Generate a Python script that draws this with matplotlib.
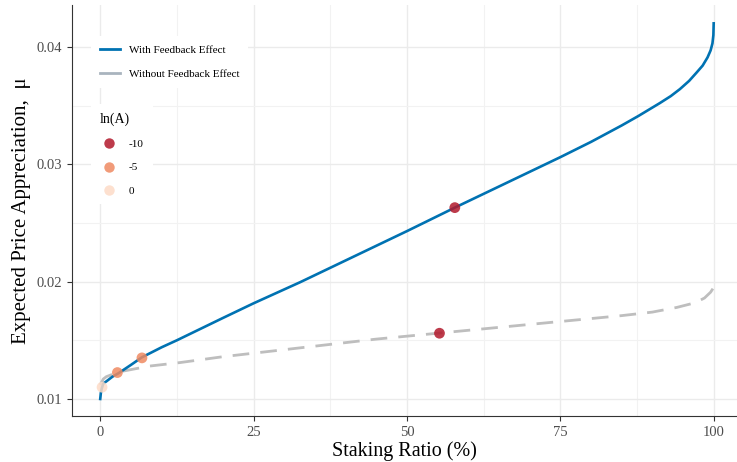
import matplotlib.pyplot as plt
from matplotlib.lines import Line2D

# curve with feedback effect
with_x = [0, 0.1, 0.25, 0.5, 1, 2, 3, 5, 6.8, 10, 12.5, 20, 25, 32.6, 40, 50,
          57.8, 65, 75, 80, 85, 87.7, 91.2, 93, 94.5, 96, 97.2, 98.2, 99,
          99.5, 99.8, 99.95, 100]
with_y = [0.0100, 0.0105, 0.0109, 0.0113, 0.0115, 0.0119, 0.0122, 0.0129,
          0.01355, 0.0144, 0.0150, 0.0169, 0.01815, 0.01995, 0.0218, 0.0243,
          0.0263, 0.0281, 0.0306, 0.0319, 0.0333, 0.0341, 0.0352, 0.0358,
          0.0364, 0.0371, 0.0378, 0.0384, 0.0391, 0.0397, 0.0403, 0.0410,
          0.0420]

# curve without feedback effect
without_x = [0, 0.5, 1, 2, 3, 5, 8, 13, 20, 25, 35, 45, 55, 65, 75, 85, 90,
             94, 97, 98.5, 99.5, 100]
without_y = [0.0112, 0.0117, 0.0119, 0.0121, 0.0123, 0.0125, 0.0128, 0.0131,
             0.0136, 0.0139, 0.0145, 0.0151, 0.0156, 0.0161, 0.0166, 0.0171,
             0.0174, 0.0178, 0.0182, 0.0186, 0.0191, 0.0195]

# highlighted points
dot_x = [57.8, 55.3, 2.8, 6.8, 0.3]
dot_y = [0.0263, 0.0156, 0.01225, 0.0135, 0.0110]
dot_lnA = [-10, -10, -5, -5, 0]
lnA_levels = [-10, -5, 0]
lnA_colors = {-10: '#B2182B', -5: '#EF8A62', 0: '#FDDBC7'}

plt.rcParams['font.family'] = 'Liberation Serif'

fig = plt.figure(figsize=(7.37, 4.62), dpi=100)
ax = fig.add_axes([0.0977, 0.0996, 0.9023, 0.89])

ax.plot(without_x, without_y, color='#BEBEBE', lw=2.0, ls=(0, (6, 4)), zorder=2)
ax.plot(with_x, with_y, color='#0072B2', lw=1.9, zorder=3)

ax.scatter(dot_x, dot_y, c=[lnA_colors[v] for v in dot_lnA], s=60,
           alpha=0.85, edgecolors='none', zorder=4)

ax.set_xlim(-4.6, 103.8)
ax.set_ylim(0.00855, 0.04358)
ax.set_xticks([0, 25, 50, 75, 100])
ax.set_xticks([12.5, 37.5, 62.5, 87.5], minor=True)
ax.set_yticks([0.01, 0.02, 0.03, 0.04])
ax.set_yticklabels(['0.01', '0.02', '0.03', '0.04'])
ax.set_yticks([0.015, 0.025, 0.035], minor=True)

ax.grid(True, which='major', color='#EBEBEB', lw=1.0)
ax.grid(True, which='minor', color='#F2F2F2', lw=0.8)
ax.set_axisbelow(True)

for s in ['top', 'right']:
    ax.spines[s].set_visible(False)
for s in ['left', 'bottom']:
    ax.spines[s].set_color('#333333')
    ax.spines[s].set_linewidth(0.8)
ax.tick_params(which='major', length=3.5, color='#333333', labelsize=10.5,
               labelcolor='#4D4D4D')
ax.tick_params(which='minor', length=0)

ax.set_xlabel('Staking Ratio (%)', fontsize=14.5, labelpad=2)
ax.set_ylabel('Expected Price Appreciation,  μ', fontsize=15, labelpad=4)

line_handles = [Line2D([], [], color='#0072B2', lw=2),
                Line2D([], [], color='#A9B4BE', lw=2)]
leg1 = ax.legend(line_handles, ['With Feedback Effect', 'Without Feedback Effect'],
                 loc='upper left', bbox_to_anchor=(0.0286, 0.923), fontsize=8,
                 frameon=True, facecolor='white', edgecolor='none', framealpha=1,
                 fancybox=False, handlelength=1.8, handletextpad=0.8,
                 labelspacing=1.25, borderpad=0.8, borderaxespad=0)
ax.add_artist(leg1)

dot_handles = [Line2D([], [], marker='o', ls='none', markersize=7.5,
                      markerfacecolor=lnA_colors[v], markeredgecolor='none',
                      alpha=0.85) for v in lnA_levels]
leg2 = ax.legend(dot_handles, [str(v) for v in lnA_levels], title='ln(A)',
                 loc='upper left', bbox_to_anchor=(0.0286, 0.759), fontsize=8,
                 title_fontsize=10, frameon=True, facecolor='white',
                 edgecolor='none', framealpha=1, fancybox=False,
                 handlelength=1.6, handletextpad=1.0, labelspacing=1.2,
                 borderpad=0.8, borderaxespad=0)
leg2._legend_box.align = 'left'

fig.savefig('out.png', dpi=100)
